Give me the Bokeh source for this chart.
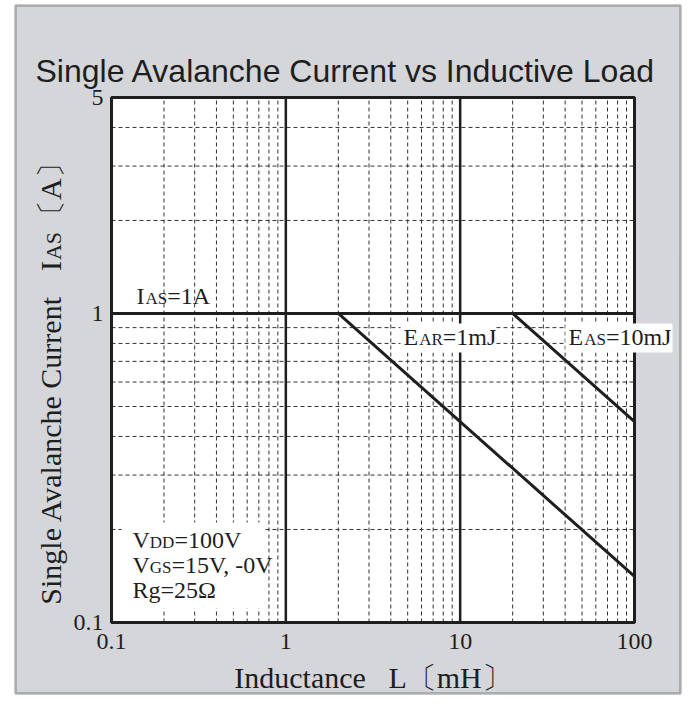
import math
from bokeh.plotting import figure
from bokeh.models import Range1d, Label, BoxAnnotation
from bokeh.core.properties import value
from bokeh.embed import file_html
from bokeh.resources import INLINE

# ---------------- data ----------------
x_ticks = [0.1, 1, 10, 100]
x_tick_labels = ["0.1", "1", "10", "100"]
x_minor = [0.2, 0.3, 0.4, 0.5, 0.6, 0.7, 0.8, 0.9,
           2, 3, 4, 5, 6, 7, 8, 9,
           20, 30, 40, 50, 60, 70, 80, 90]
y_ticks = [0.1, 1, 5]
y_tick_labels = ["0.1", "1", "5"]
y_minor = [0.2, 0.3, 0.4, 0.5, 0.6, 0.7, 0.8, 0.9, 2, 3, 4]

ias_L = [0.1, 100.0]   # I_AS = 1 A limit
ias_I = [1.0, 1.0]
ear_L = [2.0, 100.0]   # E_AR = 1 mJ
ear_I = [1.0, 0.141]
eas_L = [20.0, 100.0]  # E_AS = 10 mJ
eas_I = [1.0, 0.447]

# ---------------- layout / style ----------------
INK = "#1e1e1e"
GREY = "#d4d6d9"
SERIF = "Liberation Serif"
SANS = "Liberation Sans"

CW, CH = 684, 696                               # canvas size
BOX_L, BOX_R, BOX_T, BOX_B = 111, 634, 97, 622  # plot box in canvas px

x_lo, x_hi = x_ticks[0], x_ticks[-1]
y_lo, y_hi = y_ticks[0], y_ticks[-1]
lx0, lx1 = math.log10(x_lo), math.log10(x_hi)
dx = (BOX_R - BOX_L) / (lx1 - lx0)
ly0, ly1 = math.log10(y_lo), math.log10(y_hi)
dy = (BOX_B - BOX_T) / (ly1 - ly0)
xr = Range1d(10 ** (lx0 - BOX_L / dx), 10 ** (lx1 + (CW - BOX_R) / dx))
yr = Range1d(10 ** (ly0 - (CH - BOX_B) / dy), 10 ** (ly1 + BOX_T / dy))

p = figure(width=CW, height=CH, x_axis_type="log", y_axis_type="log",
           x_range=xr, y_range=yr, x_axis_location=None, y_axis_location=None,
           min_border=0, output_backend="svg", toolbar_location=None, tools="")
p.grid.visible = False
p.outline_line_color = None
p.background_fill_color = "white"
p.border_fill_color = "white"

# grey panel with dark frame
p.add_layout(BoxAnnotation(left=15, right=680, top=5, bottom=693,
                           left_units="canvas", right_units="canvas",
                           top_units="canvas", bottom_units="canvas",
                           fill_color=GREY, fill_alpha=1.0,
                           line_color=INK, line_width=2.5, level="underlay"))

# white plot area
p.quad(left=[x_lo], right=[x_hi], bottom=[y_lo], top=[y_hi],
       fill_color="white", line_color=None)

# minor (dashed) grid
n_xm, n_ym = len(x_minor), len(y_minor)
p.segment(x0=x_minor, x1=x_minor, y0=[y_lo] * n_xm, y1=[y_hi] * n_xm,
          line_color="#333333", line_width=1, line_dash="4 3")
p.segment(x0=[x_lo] * n_ym, x1=[x_hi] * n_ym, y0=y_minor, y1=y_minor,
          line_color="#333333", line_width=1, line_dash="4 3")
# major decade grid
xin = x_ticks[1:-1]
yin = y_ticks[1:-1]
p.segment(x0=xin, x1=xin, y0=[y_lo] * len(xin), y1=[y_hi] * len(xin),
          line_color=INK, line_width=2.5)
p.segment(x0=[x_lo] * len(yin), x1=[x_hi] * len(yin), y0=yin, y1=yin,
          line_color=INK, line_width=2.5)

# curves
p.line(ias_L, ias_I, line_color=INK, line_width=3)
p.line(ear_L, ear_I, line_color=INK, line_width=3)
p.line(eas_L, eas_I, line_color=INK, line_width=3)

# plot box outline
p.quad(left=[x_lo], right=[x_hi], bottom=[y_lo], top=[y_hi],
       fill_color=None, line_color=INK, line_width=3)

# tick labels
p.text(x=x_ticks, y=[y_lo] * len(x_ticks), text=x_tick_labels,
       text_font=value(SERIF), text_font_size="24px", text_color=INK,
       text_align="center", text_baseline="middle", y_offset=19)
p.text(x=[x_lo] * len(y_ticks), y=y_ticks, text=y_tick_labels,
       text_font=value(SERIF), text_font_size="24px", text_color=INK,
       text_align="right", text_baseline="middle", x_offset=-8)

# ---------------- text helpers ----------------
WID = {' ': .25, '=': .564, ',': .25, '-': .333, '.': .25, 'Ω': .768,
       '〔': 1.0, '〕': 1.0}
WID.update({c: w for c, w in zip("ABCDEFGHIJKLMNOPQRSTUVWXYZ",
            [.722, .667, .667, .722, .611, .556, .722, .722, .333, .389, .722, .611, .889,
             .722, .722, .556, .722, .667, .556, .611, .722, .722, .944, .722, .722, .611])})
WID.update({c: w for c, w in zip("abcdefghijklmnopqrstuvwxyz",
            [.444, .5, .444, .5, .444, .333, .5, .5, .278, .278, .5, .278, .778,
             .5, .5, .5, .5, .333, .389, .278, .5, .5, .722, .5, .5, .444])})
for d in "0123456789":
    WID[d] = .5

MID = 0.34   # em-box middle above the baseline (Times metrics)


def tw(s, size):
    return sum(WID.get(c, .5) for c in s) * size


def rich(parts, x, y, vertical=False):
    """parts: (text, font px, gap px); x, y: canvas px of the start on the baseline."""
    pos = 0.0
    for text, size, gap in parts:
        pos += gap
        if vertical:
            lab = Label(x=x - MID * size, y=y - pos, angle=math.pi / 2, text=text)
        else:
            lab = Label(x=x + pos, y=y - MID * size, text=text)
        lab.x_units = "canvas"
        lab.y_units = "canvas"
        lab.text_align = "left"
        lab.text_baseline = "middle"
        lab.text_font = SERIF
        lab.text_font_size = f"{size}px"
        lab.text_color = INK
        p.add_layout(lab)
        pos += tw(text, size)
    return pos


def white_box(l, r, t, b):
    p.add_layout(BoxAnnotation(left=l, right=r, top=t, bottom=b,
                               left_units="canvas", right_units="canvas",
                               top_units="canvas", bottom_units="canvas",
                               fill_color="white", fill_alpha=1.0, line_color=None))


# title
p.add_layout(Label(x=35, y=70, x_units="canvas", y_units="canvas",
                   text="Single Avalanche Current vs Inductive Load",
                   text_font=SANS, text_font_size="32px", text_color=INK,
                   text_align="left", text_baseline="middle"))

# white backgrounds behind in-plot notes
white_box(121, 264, 522, 608)
white_box(400, 494, 323, 352)
white_box(565, 672, 323, 352)

A, S = 24, 17
rich([("I", A, 0), ("AS", S, 1), ("=1A", A, 0)], 136, 304)
rich([("E", A, 0), ("AR", S, 1), ("=1mJ", A, 0)], 403, 345)
rich([("E", A, 0), ("AS", S, 1), ("=10mJ", A, 0)], 568, 345)
rich([("V", A, 0), ("DD", S, 0), ("=100V", A, 0)], 132, 548)
rich([("V", A, 0), ("GS", S, 0), ("=15V, -0V", A, 0)], 132, 573)
rich([("Rg=25Ω", A, 0)], 132, 598)

# y axis title (rotated, with small-caps subscript)
YS, YSS = 30, 22
ypieces = [("Single Avalanche Current", YS, 0), ("I", YS, 22), ("AS", YSS, 1), ("〔A〕", YS, 2)]
ytotal = sum(tw(t, s) + g for t, s, g in ypieces)
rich(ypieces, 50 + MID * YS, 376 + ytotal / 2, vertical=True)

# x axis title
p.add_layout(Label(x=(BOX_L + BOX_R) / 2, y=677, x_units="canvas", y_units="canvas",
                   text="Inductance \u00a0\u00a0L〔mH〕", text_font=SERIF, text_font_size="30px",
                   text_color=INK, text_align="center", text_baseline="middle"))

open("out.html", "w").write(file_html(p, INLINE))
